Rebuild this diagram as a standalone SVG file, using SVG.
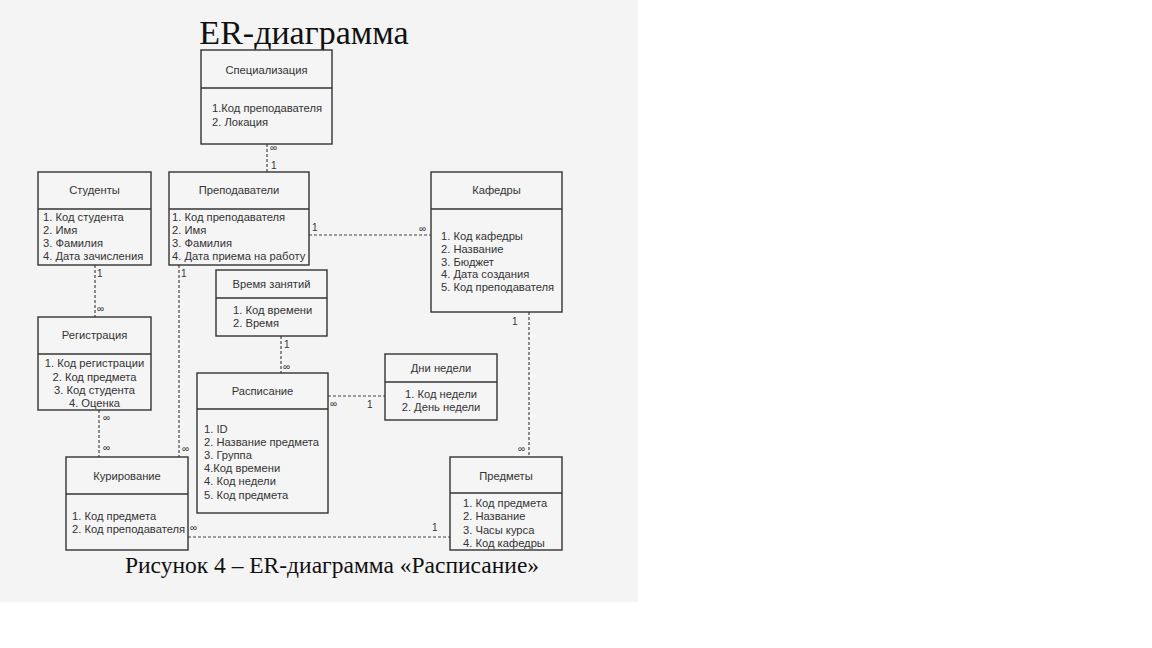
<svg xmlns="http://www.w3.org/2000/svg" width="1152" height="648" viewBox="0 0 1152 648">
<style>
.box{fill:#f5f5f5;stroke:#333;stroke-width:1.4}
.div{stroke:#333;stroke-width:1.4}
.t{font-family:"Liberation Sans",Arial,sans-serif;font-size:11.2px;fill:#333}
.h{text-anchor:middle}
.c{stroke:#444;stroke-width:1.2;stroke-dasharray:3 2;fill:none}
.l{font-family:"Liberation Sans",Arial,sans-serif;font-size:10px;fill:#333}
.serif{font-family:"Liberation Serif","Times New Roman",serif;fill:#111}
</style>
<rect x="0" y="0" width="1152" height="648" fill="#ffffff"/>
<rect x="0" y="0" width="638" height="602" fill="#f4f4f4"/>
<text class="serif" x="304" y="44" font-size="34" text-anchor="middle">ER-диаграмма</text>
<text class="serif" x="332" y="573" font-size="23.5" text-anchor="middle">Рисунок 4 – ER-диаграмма «Расписание»</text>

<g id="connectors">
<line class="c" x1="267" y1="144" x2="267" y2="172"/>
<text class="l" x="270" y="151">∞</text><text class="l" x="271" y="169">1</text>
<line class="c" x1="309" y1="235" x2="431" y2="235"/>
<text class="l" x="312" y="231">1</text><text class="l" x="419" y="232">∞</text>
<line class="c" x1="95" y1="265" x2="95" y2="317"/>
<text class="l" x="97" y="277">1</text><text class="l" x="97" y="312">∞</text>
<line class="c" x1="179" y1="265" x2="179" y2="457"/>
<text class="l" x="181" y="277">1</text><text class="l" x="182" y="452">∞</text>
<line class="c" x1="281" y1="336" x2="281" y2="373"/>
<text class="l" x="284" y="348">1</text><text class="l" x="283" y="370">∞</text>
<line class="c" x1="328" y1="396" x2="385" y2="396"/>
<text class="l" x="330" y="407">∞</text><text class="l" x="367" y="408">1</text>
<line class="c" x1="99" y1="410" x2="99" y2="457"/>
<text class="l" x="103" y="421">∞</text><text class="l" x="103" y="451">∞</text>
<line class="c" x1="529" y1="312" x2="529" y2="457"/>
<text class="l" x="512" y="325">1</text><text class="l" x="518" y="452">∞</text>
<line class="c" x1="188" y1="537" x2="450" y2="537"/>
<text class="l" x="190" y="531">∞</text><text class="l" x="432" y="531">1</text>
</g>

<g id="spec">
<rect class="box" x="201" y="50" width="131" height="94"/>
<line class="div" x1="201" y1="88" x2="332" y2="88"/>
<text class="t h" x="266.5" y="74">Специализация</text>
<text class="t" x="212" y="112">1.Код преподавателя</text>
<text class="t" x="212" y="126">2. Локация</text>
</g>

<g id="students">
<rect class="box" x="38" y="172" width="113" height="93"/>
<line class="div" x1="38" y1="209" x2="151" y2="209"/>
<text class="t h" x="94.5" y="194">Студенты</text>
<text class="t" x="43" y="221">1. Код студента</text>
<text class="t" x="43" y="234">2. Имя</text>
<text class="t" x="43" y="247">3. Фамилия</text>
<text class="t" x="43" y="260">4. Дата зачисления</text>
</g>

<g id="teachers">
<rect class="box" x="169" y="172" width="140" height="93"/>
<line class="div" x1="169" y1="209" x2="309" y2="209"/>
<text class="t h" x="239" y="194">Преподаватели</text>
<text class="t" x="172" y="221">1. Код преподавателя</text>
<text class="t" x="172" y="234">2. Имя</text>
<text class="t" x="172" y="247">3. Фамилия</text>
<text class="t" x="172" y="260">4. Дата приема на работу</text>
</g>

<g id="departments">
<rect class="box" x="431" y="172" width="131" height="140"/>
<line class="div" x1="431" y1="209" x2="562" y2="209"/>
<text class="t h" x="496.5" y="194">Кафедры</text>
<text class="t" x="441" y="240">1. Код кафедры</text>
<text class="t" x="441" y="253">2. Название</text>
<text class="t" x="441" y="266">3. Бюджет</text>
<text class="t" x="441" y="278">4. Дата создания</text>
<text class="t" x="441" y="291">5. Код преподавателя</text>
</g>

<g id="time">
<rect class="box" x="216" y="270" width="111" height="66"/>
<line class="div" x1="216" y1="298" x2="327" y2="298"/>
<text class="t h" x="271.5" y="288">Время занятий</text>
<text class="t" x="233" y="314">1. Код времени</text>
<text class="t" x="233" y="327">2. Время</text>
</g>

<g id="registration">
<rect class="box" x="38" y="317" width="113" height="93"/>
<line class="div" x1="38" y1="354" x2="151" y2="354"/>
<text class="t h" x="94.5" y="339">Регистрация</text>
<text class="t h" x="94.5" y="367">1. Код регистрации</text>
<text class="t h" x="94.5" y="381">2. Код предмета</text>
<text class="t h" x="94.5" y="394">3. Код студента</text>
<text class="t h" x="94.5" y="407">4. Оценка</text>
</g>

<g id="schedule">
<rect class="box" x="197" y="373" width="131" height="140"/>
<line class="div" x1="197" y1="409" x2="328" y2="409"/>
<text class="t h" x="262.5" y="395">Расписание</text>
<text class="t" x="204" y="433">1. ID</text>
<text class="t" x="204" y="446">2. Название предмета</text>
<text class="t" x="204" y="459">3. Группа</text>
<text class="t" x="204" y="472">4.Код времени</text>
<text class="t" x="204" y="485">4. Код недели</text>
<text class="t" x="204" y="499">5. Код предмета</text>
</g>

<g id="weekdays">
<rect class="box" x="385" y="354" width="112" height="66"/>
<line class="div" x1="385" y1="382" x2="497" y2="382"/>
<text class="t h" x="441" y="372">Дни недели</text>
<text class="t h" x="441" y="398">1. Код недели</text>
<text class="t h" x="441" y="411">2. День недели</text>
</g>

<g id="curation">
<rect class="box" x="66" y="457" width="122" height="93"/>
<line class="div" x1="66" y1="494" x2="188" y2="494"/>
<text class="t h" x="127" y="480">Курирование</text>
<text class="t" x="72" y="520">1. Код предмета</text>
<text class="t" x="72" y="533">2. Код преподавателя</text>
</g>

<g id="subjects">
<rect class="box" x="450" y="457" width="112" height="93"/>
<line class="div" x1="450" y1="493" x2="562" y2="493"/>
<text class="t h" x="506" y="480">Предметы</text>
<text class="t" x="463" y="507">1. Код предмета</text>
<text class="t" x="463" y="520">2. Название</text>
<text class="t" x="463" y="534">3. Часы курса</text>
<text class="t" x="463" y="547">4. Код кафедры</text>
</g>
</svg>
